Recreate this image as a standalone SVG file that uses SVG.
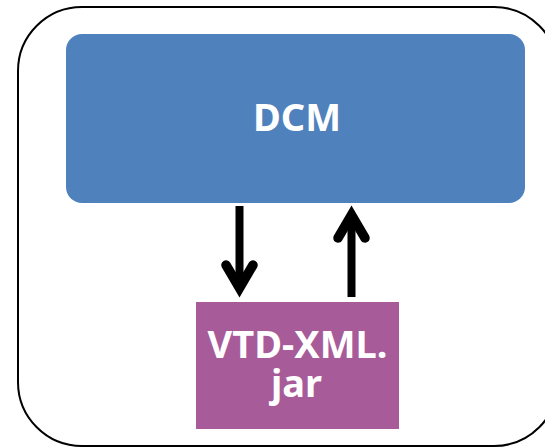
<svg xmlns="http://www.w3.org/2000/svg" width="545" height="447" viewBox="0 0 545 447">
<style>
.t{font-family:"Noto Sans","Open Sans","Noto Sans CJK KR",sans-serif;font-weight:700;fill:#fff;text-anchor:middle;font-size:38px}
.a{fill:none;stroke:#000;stroke-width:9.500;stroke-linecap:round;stroke-linejoin:miter}
.s{fill:none;stroke:#000;stroke-width:8;stroke-linecap:butt}
</style>
<rect width="545" height="447" fill="#fff"/>
<g id="frame"><rect x="18" y="7" width="540" height="439" rx="64" fill="#fff" stroke="#000" stroke-width="2"/></g>
<g id="dcm"><rect x="66" y="34" width="459" height="169" rx="16" fill="#4f81bd"/><text class="t" x="297" y="131">DCM</text></g>
<g id="vtd"><rect x="196" y="302" width="203" height="127" fill="#a85b99"/><text class="t"><tspan x="297.500" y="358">VTD-XML.</tspan><tspan x="296.500" y="397">jar</tspan></text></g>
<g id="connectors">
<path class="s" d="M239.500 206V288"/>
<path class="a" d="M226 265L239.500 288L253 265"/>
<path class="s" d="M351.500 297V216"/>
<path class="a" d="M338 238L351.500 215L365 238"/>
</g>
</svg>
